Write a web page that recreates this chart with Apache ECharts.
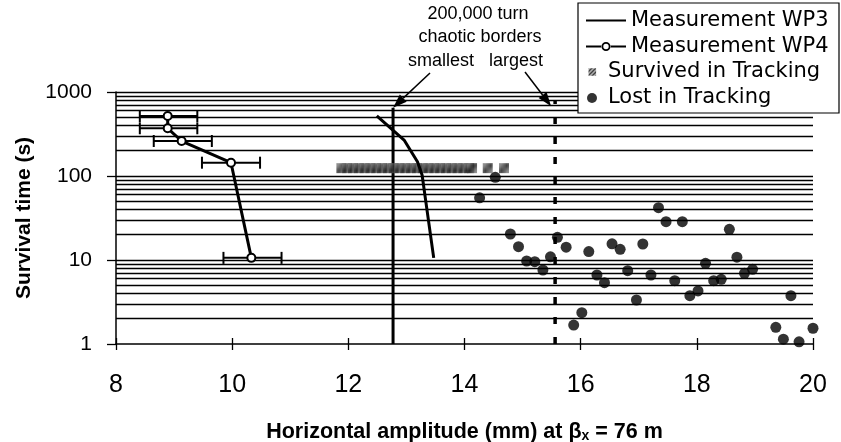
<!DOCTYPE html>
<html><head><meta charset="utf-8">
<script src="https://cdn.jsdelivr.net/npm/echarts/dist/echarts.min.js"></script>
<style>html,body{margin:0;padding:0;background:#fff}#c{width:841px;height:442px}</style>
</head><body><div id="c"></div>
<script>
// ---- data ----
const xTickValues = [8, 10, 12, 14, 16, 18, 20];
const yTickValues = [1, 10, 100, 1000];

const wp3X = [12.49, 12.96, 13.19, 13.27, 13.47];
const wp3Y = [518, 268, 148, 103, 10.6];

const wp4X = [8.89, 8.89, 9.13, 9.98, 10.33];
const wp4Y = [518, 370, 261, 144, 10.6];
const wp4ErrLow = [8.41, 8.41, 8.65, 9.48, 9.85];
const wp4ErrHigh = [9.40, 9.40, 9.65, 10.48, 10.85];

const survivedX = [11.88, 11.98, 12.08, 12.18, 12.28, 12.38, 12.48, 12.58, 12.68, 12.78, 12.88, 12.98,
  13.08, 13.18, 13.28, 13.38, 13.48, 13.58, 13.68, 13.78, 13.88, 13.98, 14.08, 14.13, 14.40, 14.68];
const survivedY = [124, 124, 124, 124, 124, 124, 124, 124, 124, 124, 124, 124,
  124, 124, 124, 124, 124, 124, 124, 124, 124, 124, 124, 124, 124, 124];

const lostX = [14.53, 14.26, 17.34, 17.47, 17.75, 18.56, 14.79, 15.60, 14.93, 15.75, 16.54, 16.68, 17.07,
  16.14, 15.48, 15.07, 15.21, 15.35, 18.69, 18.15, 16.28, 16.41, 16.81, 17.21, 17.62, 18.29, 18.42,
  18.82, 18.96, 17.88, 18.02, 16.96, 19.62, 16.02, 15.88, 19.36, 19.49, 19.76, 20.0];
const lostY = [96.5, 55, 42, 28.6, 28.6, 23.2, 20.4, 18.6, 14.4, 14.2, 15.6, 13.4, 15.5,
  12.6, 10.9, 9.73, 9.55, 7.6, 10.8, 9.13, 6.63, 5.37, 7.46, 6.63, 5.67, 5.67, 5.89,
  6.95, 7.75, 3.76, 4.28, 3.34, 3.76, 2.36, 1.68, 1.58, 1.14, 1.06, 1.54];

const smallestBorderX = 12.77, smallestBorderTop = 650;
const largestBorderX = 15.56, largestBorderTop = 800;

// ---- styling helpers ----
const gridValues = [];
[1, 10, 100].forEach(d => { for (let k = 2; k <= 10; k++) gridValues.push(k * d); });

const pat = document.createElement('canvas');
pat.width = 4; pat.height = 4;
(function () {
  const g = pat.getContext('2d');
  g.fillStyle = '#9a9a9a'; g.fillRect(0, 0, 4, 4);
  g.strokeStyle = '#111'; g.lineWidth = 1.3;
  g.beginPath(); g.moveTo(0, 4); g.lineTo(4, 0); g.moveTo(-1, 1); g.lineTo(1, -1); g.moveTo(3, 5); g.lineTo(5, 3); g.stroke();
})();

const FONT = '"Liberation Sans", Arial, sans-serif';
const LFONT = '"DejaVu Sans", sans-serif';

// legend icons (bounding-box corner dots keep the glyph proportions)
const iconWP3 = 'path://M0,0h0.01v0.01h-0.01z M40,12h-0.01v-0.01h0.01z M0,5.1h40v1.8h-40z';
const iconWP4 = 'path://M0,0h0.01v0.01h-0.01z M40,12h-0.01v-0.01h0.01z M0,5.1h16v1.8h-16z M24,5.1h16v1.8h-16z ' +
  'M15.5,6a4.5,4.5 0 1,0 9,0a4.5,4.5 0 1,0 -9,0z M17.3,6a2.7,2.7 0 1,1 5.4,0a2.7,2.7 0 1,1 -5.4,0z';
const iconSurv = 'path://M0,0h0.01v0.01h-0.01z M22,10h-0.01v-0.01h0.01z M7.5,1.2h7.6v7.6h-7.6z';

const chart = echarts.init(document.getElementById('c'), null, { renderer: 'canvas' });

const baseX = {
  type: 'value', min: xTickValues[0], max: xTickValues[xTickValues.length - 1], interval: 2
};

const option = {
  animation: false,
  backgroundColor: '#fff',
  grid: { left: 116, right: 28, top: 92, bottom: 98, containLabel: false, outerBoundsMode: 'none' },
  xAxis: [
    Object.assign({}, baseX, {
      axisLine: { show: true, onZero: false, lineStyle: { color: '#000', width: 1.5 } },
      axisTick: { show: true, length: 6, lineStyle: { color: '#000', width: 1.3 } },
      axisLabel: { color: '#000', fontFamily: FONT, fontSize: 25, margin: 29 },
      splitLine: { show: false },
      name: 'Horizontal amplitude (mm) at β{sub|x} = 76 m',
      nameLocation: 'middle', nameGap: 77,
      nameTextStyle: { color: '#000', fontFamily: FONT, fontWeight: 'bold', fontSize: 21.5,
        rich: { sub: { fontFamily: FONT, fontWeight: 'bold', fontSize: 14, color: '#000', padding: [8, 0, 0, 0] } } }
    }),
    Object.assign({}, baseX, {
      position: 'bottom', offset: 0,
      axisLine: { show: false, onZero: false },
      axisTick: { show: true, inside: true, length: 6, lineStyle: { color: '#000', width: 1.3 } },
      axisLabel: { show: false }, splitLine: { show: false }
    })
  ],
  yAxis: {
    type: 'log', logBase: 10, min: yTickValues[0], max: yTickValues[yTickValues.length - 1],
    axisLine: { show: true, lineStyle: { color: '#000', width: 1.5 } },
    axisTick: { show: true, length: 9, lineStyle: { color: '#000', width: 1.3 } },
    axisLabel: { color: '#000', fontFamily: FONT, fontSize: 21, margin: 24, formatter: v => String(v) },
    splitLine: { show: false },
    minorTick: { show: false }, minorSplitLine: { show: false },
    name: 'Survival time (s)', nameLocation: 'middle', nameGap: 62,
    nameTextStyle: { color: '#000', fontFamily: FONT, fontWeight: 'bold', fontSize: 21 }
  },
  legend: [
    {
      data: [{ name: 'Measurement WP3', icon: iconWP3 }, { name: 'Measurement WP4', icon: iconWP4 }],
      orient: 'vertical', left: 586, top: 10, padding: 0,
      itemWidth: 40, itemHeight: 12, itemGap: 5, selectedMode: false,
      itemStyle: { borderWidth: 0 },
      textStyle: { color: '#000', fontFamily: LFONT, fontSize: 21, lineHeight: 21 }, z: 6
    },
    {
      data: [{ name: 'Survived in Tracking', icon: iconSurv }, { name: 'Lost in Tracking', icon: 'circle' }],
      orient: 'vertical', left: 581, top: 61.5, padding: 0,
      itemWidth: 22, itemHeight: 10, itemGap: 5, selectedMode: false,
      itemStyle: { borderWidth: 0 },
      textStyle: { color: '#000', fontFamily: LFONT, fontSize: 21, lineHeight: 21 }, z: 6
    }
  ],
  series: [
    {
      name: 'grid', type: 'line', data: [], z: 1, silent: true,
      markLine: {
        silent: true, symbol: ['none', 'none'], label: { show: false },
        lineStyle: { color: '#000', width: 1.4, type: 'solid' },
        emphasis: { disabled: true },
        data: gridValues.map(v => ({ yAxis: v }))
      }
    },
    {
      name: 'smallest', type: 'line', z: 3, symbol: 'none', silent: true,
      data: [[smallestBorderX, 1], [smallestBorderX, smallestBorderTop]],
      lineStyle: { color: '#000', width: 3 }
    },
    {
      name: 'largest', type: 'line', z: 3, symbol: 'none', silent: true,
      data: [[largestBorderX, 1], [largestBorderX, largestBorderTop]],
      lineStyle: { color: '#000', width: 3.5, type: [7, 13] }
    },
    {
      name: 'Survived in Tracking', type: 'scatter', z: 3, clip: false, symbol: 'rect', symbolSize: 10,
      data: survivedX.map((x, i) => [x, survivedY[i]]),
      itemStyle: { color: { image: pat, repeat: 'repeat' }, borderWidth: 0 }
    },
    {
      name: 'Lost in Tracking', type: 'scatter', z: 4, clip: false, symbol: 'circle', symbolSize: 11,
      data: lostX.map((x, i) => [x, lostY[i]]),
      itemStyle: { color: '#000' }
    },
    {
      name: 'Measurement WP3', type: 'line', z: 4, symbol: 'none', clip: false,
      data: wp3X.map((x, i) => [x, wp3Y[i]]),
      lineStyle: { color: '#000', width: 3 }, itemStyle: { color: '#000' }
    },
    {
      name: 'wp4err', type: 'custom', z: 5, silent: true,
      data: wp4Y.map((y, i) => [wp4ErrLow[i], wp4ErrHigh[i], y]),
      encode: { x: [0, 1], y: 2 },
      renderItem: function (params, api) {
        const a = api.coord([api.value(0), api.value(2)]);
        const b = api.coord([api.value(1), api.value(2)]);
        const h = 6;
        const st = { stroke: '#000', lineWidth: 2 };
        return {
          type: 'group', children: [
            { type: 'line', shape: { x1: a[0], y1: a[1], x2: b[0], y2: b[1] }, style: st },
            { type: 'line', shape: { x1: a[0], y1: a[1] - h, x2: a[0], y2: a[1] + h }, style: st },
            { type: 'line', shape: { x1: b[0], y1: b[1] - h, x2: b[0], y2: b[1] + h }, style: st }
          ]
        };
      }
    },
    {
      name: 'Measurement WP4', type: 'line', z: 6, symbol: 'emptyCircle', symbolSize: 8, clip: false,
      data: wp4X.map((x, i) => [x, wp4Y[i]]),
      lineStyle: { color: '#000', width: 3 },
      itemStyle: { color: '#000', borderColor: '#000', borderWidth: 2 }
    }
  ]
};
chart.setOption(option);

// annotations: texts and arrows pointing at the two border lines
function arrow(s, t) {
  const dx = t[0] - s[0], dy = t[1] - s[1];
  const len = Math.hypot(dx, dy), ux = dx / len, uy = dy / len;
  const L = 14, w = 5;
  const bx = t[0] - ux * L, by = t[1] - uy * L;
  return [
    { type: 'line', z: 7, shape: { x1: s[0], y1: s[1], x2: bx, y2: by }, style: { stroke: '#000', lineWidth: 1.5 } },
    { type: 'polygon', z: 7, shape: { points: [[t[0], t[1]], [bx - uy * w, by + ux * w], [bx + uy * w, by - ux * w]] }, style: { fill: '#000' } }
  ];
}
const tipS = chart.convertToPixel({ gridIndex: 0 }, [smallestBorderX, smallestBorderTop]);
const tipL = chart.convertToPixel({ gridIndex: 0 }, [largestBorderX, largestBorderTop]);
function txt(t, x, y) {
  return { type: 'text', z: 7, x: x, y: y,
    style: { text: t, font: '18px ' + FONT, fill: '#000', textAlign: 'center', align: 'center', textVerticalAlign: 'middle', verticalAlign: 'middle' } };
}
chart.setOption({
  graphic: [
    { type: 'rect', z: 5, shape: { x: 578, y: 3, width: 261, height: 110 }, style: { fill: '#fff', stroke: '#000', lineWidth: 1.2 } },
    txt('200,000 turn', 478, 14),
    txt('chaotic borders', 480, 37),
    txt('smallest', 441, 61),
    txt('largest', 516, 61)
  ].concat(arrow([430, 73], [tipS[0], tipS[1]]), arrow([525, 72], [tipL[0] - 4, tipL[1] + 6]))
});
</script>
</body></html>
